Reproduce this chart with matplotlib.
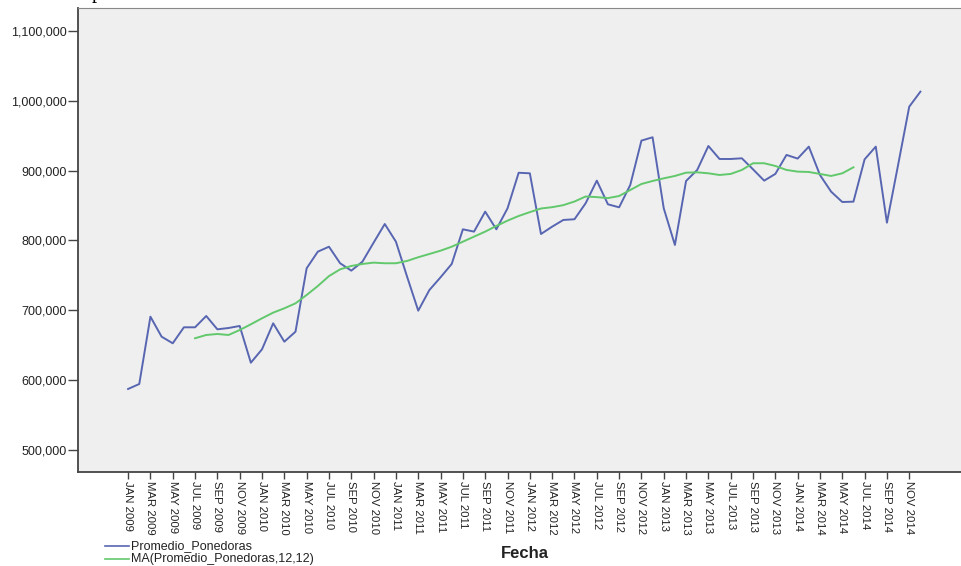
import matplotlib.pyplot as plt
from matplotlib.lines import Line2D
from matplotlib.ticker import FuncFormatter

plt.rcParams['font.family'] = ['Liberation Sans', 'DejaVu Sans']

# monthly data, JAN 2009 .. DEC 2014
months = ["JAN", "FEB", "MAR", "APR", "MAY", "JUN",
          "JUL", "AUG", "SEP", "OCT", "NOV", "DEC"]
years = [2009, 2010, 2011, 2012, 2013, 2014]
fechas = [f"{m} {y}" for y in years for m in months]

ponedoras = [
    587400, 594500, 690900, 662300, 652800, 675700, 675700, 691900, 672800, 674700, 677600, 625000,
    644200, 681400, 655100, 669400, 760200, 784000, 791100, 767400, 756800, 769700, 796900, 823600,
    798300, 748200, 699500, 729100, 747300, 766400, 816000, 812700, 841300, 816000, 846000, 897000,
    896200, 809300, 819800, 829400, 830400, 853300, 885700, 851800, 847500, 879500, 943000, 947800,
    846100, 793600, 885200, 901000, 935300, 916700, 916700, 917700, 901900, 885700, 895300, 922500,
    917300, 934400, 893800, 869900, 855100, 855600, 916200, 934400, 825500, 908100, 991600, 1013100,
]

# MA(12,12) only exists from JUL 2009 to JUN 2014
ma_start = 6
media_movil = [
    660000, 664700, 666100, 664700, 671800, 680000, 688600, 696700, 702900, 710000, 722000, 734800,
    749000, 758700, 763500, 766400, 768300, 767400, 767400, 770700, 776000, 780700, 785400, 791100,
    798300, 805500, 812700, 820800, 828400, 835100, 840600, 845800, 847700, 850600, 855800, 863000,
    862100, 860700, 863700, 872300, 880900, 885200, 889000, 892400, 897100, 897600, 896200, 893800,
    895300, 901000, 910600, 910600, 906700, 901000, 898600, 898100, 895300, 892400, 896200, 904800,
]

series_names = ['Promedio_Ponedoras', 'MA(Promedio_Ponedoras,12,12)']
azul = '#5866b2'
verde = '#62c86c'

x = list(range(len(ponedoras)))
x_ma = list(range(ma_start, ma_start + len(media_movil)))

W, H = 962, 566
fig = plt.figure(figsize=(W / 100, H / 100), dpi=100)
ax = fig.add_axes([78 / W, 1 - 472 / H, 1 - 78 / W + 0.002, (472 - 8) / H])
ax.set_facecolor('#efefef')

ax.plot(x, ponedoras, color=azul, lw=1.4)
ax.plot(x_ma, media_movil, color=verde, lw=1.4)

ax.set_xlim(-4.49, 74.9)
ax.set_ylim(468500, 1132900)

ax.set_yticks([500000, 600000, 700000, 800000, 900000, 1000000, 1100000])
ax.yaxis.set_major_formatter(FuncFormatter(lambda v, p: f"{int(v):,}"))
ax.set_xticks(x[::2])
ax.set_xticklabels(fechas[::2], rotation=270, fontsize=8.2, color='#222222')
ax.tick_params(axis='y', labelsize=9, labelcolor='#222222', length=7, width=1, color='#444444', pad=1)
ax.tick_params(axis='x', length=5, width=1, color='#444444', pad=1.5)

for s in ['left', 'bottom']:
    ax.spines[s].set_color('#444444')
    ax.spines[s].set_linewidth(1.3)
ax.spines['top'].set_color('#888888')
ax.spines['right'].set_visible(False)

# legend drawn by hand: SPSS puts it tight under the axis labels
for k, (name, col) in enumerate(zip(series_names, [azul, verde])):
    yy = 1 - (546 + 13 * k) / H
    fig.add_artist(Line2D([105 / W, 129 / W], [yy, yy], color=col, lw=1.2))
    fig.text(131 / W, yy, name, fontsize=9, color='#222222', va='center', ha='left')

fig.text(525 / W, 1 - 554 / H, 'Fecha', fontsize=12, fontweight='bold',
         ha='center', va='center', color='#222222')
# cut-off letter from the page above the chart
fig.text(92 / W, 1.004, 'p', fontsize=15, family='Liberation Serif', va='baseline')

fig.savefig('out.png', dpi=100)
